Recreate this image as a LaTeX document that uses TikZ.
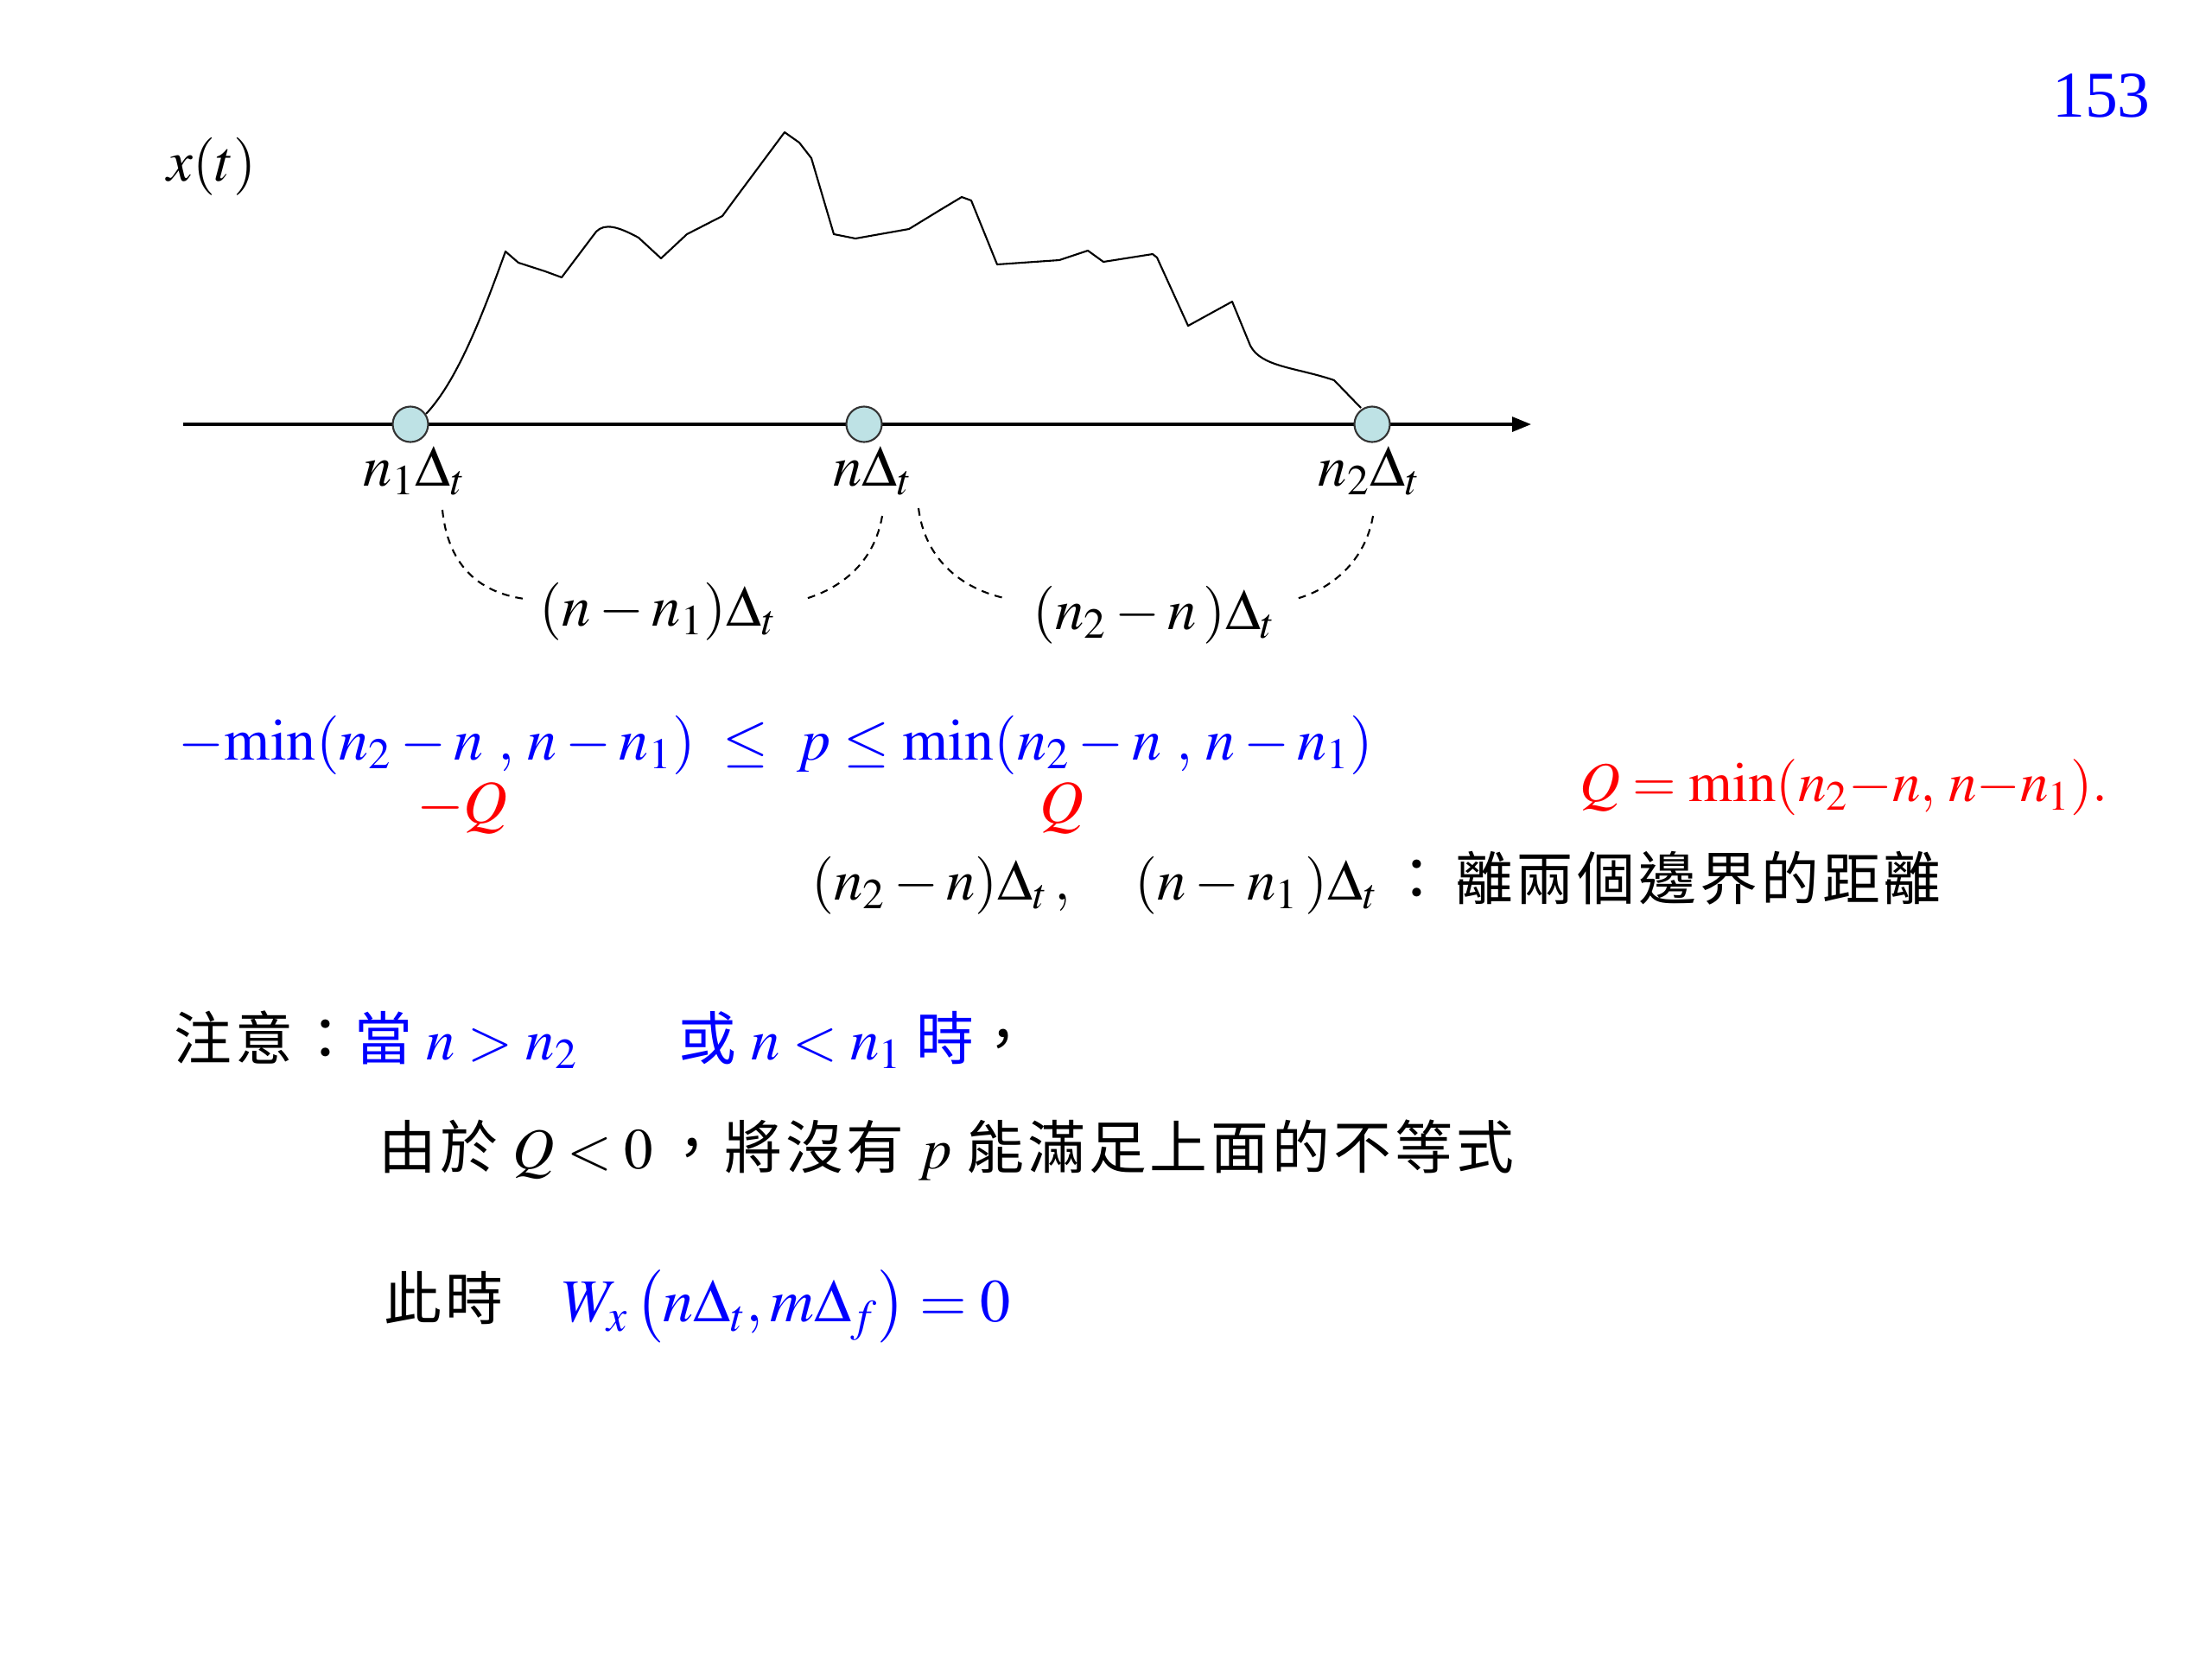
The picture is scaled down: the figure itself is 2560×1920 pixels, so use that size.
\documentclass[tikz,border=0pt]{standalone}
\usepackage{mathptmx}
\usepackage[no-math]{fontspec}
\setmainfont{Liberation Serif}
\newfontfamily\cjk[LetterSpace=6]{Noto Sans CJK TC}
\usetikzlibrary{arrows.meta}
\definecolor{dotfill}{RGB}{190,226,229}
\tikzset{
  txt/.style={inner sep=0pt, font=\fontsize{20}{24}\selectfont},
  lbl/.style={inner sep=0pt, font=\fontsize{19}{22}\selectfont},
  dot/.style={circle, draw=black!80, line width=0.6pt, fill=dotfill, minimum size=0.41cm, inner sep=0pt},
  brace/.style={line width=0.6pt, dash pattern=on 2.5pt off 2pt},
  cjkline/.style={inner sep=0pt, font=\fontsize{19}{22}\selectfont},
}
\begin{document}
\begin{tikzpicture}[x=0.01cm,y=-0.01cm]
\useasboundingbox[fill=white] (0,0) rectangle (2560,1920);

% page number
\node[inner sep=0pt, text=blue, font=\fontsize{21.5}{25}\selectfont] (pg) at (2432,111) {153};
% axis label
\node[lbl] (xt) at (245,193) {$x(t)$};

% axis
\coordinate (a0) at (212,491);
\coordinate (a1) at (1772,491);
\draw[line width=0.9pt, -{Triangle[length=0.22cm,width=0.17cm]}] (a0) -- (a1);

% signal
\draw[line width=0.6pt, line join=round]
 (493,479) .. controls (530,440) and (560,360) .. (585,291)
 -- (600,304) -- (631,314) -- (650,321)
 -- (690,268) .. controls (700,258) and (715,262) .. (739,275) -- (765,299)
 -- (795,271) -- (836,250) -- (847,235)
 -- (908,153) -- (925,165) -- (939,183) -- (965,271) -- (990,276)
 -- (1052,265) -- (1088,243) -- (1113,228) -- (1124,232)
 -- (1154,306) -- (1226,301) -- (1259,290) -- (1277,303)
 -- (1334,294) -- (1339,298) -- (1375,377) -- (1426,349)
 -- (1447,400) .. controls (1460,425) and (1500,425) .. (1544,440) -- (1575,472);

% points on axis
\node[dot] (c1) at (475,491) {};
\node[dot] (c2) at (1000,491) {};
\node[dot] (c3) at (1588,491) {};

\node[lbl] (l1) at (480,545) {$n_1\Delta_t$};
\node[lbl] (l2) at (1010,545) {$n\Delta_t$};
\node[lbl] (l3) at (1585,545) {$n_2\Delta_t$};

% distance labels
\node[lbl] (d1) at (762,708) {$(n-n_1)\Delta_t$};
\node[lbl] (d2) at (1336,712) {$(n_2-n\,)\Delta_t$};

\coordinate (s1) at (512,590);
\coordinate (e1) at (607,693);
\coordinate (s2) at (1021,597);
\coordinate (e2) at (932,693);
\coordinate (s3) at (1063,588);
\coordinate (e3) at (1162,692);
\coordinate (s4) at (1589,597);
\coordinate (e4) at (1500,693);
\draw[brace] (s1) .. controls (518,650) and (550,685) .. (e1);
\draw[brace] (s2) .. controls (1012,650) and (975,680) .. (e2);
\draw[brace] (s3) .. controls (1070,645) and (1110,680) .. (e3);
\draw[brace] (s4) .. controls (1580,650) and (1540,682) .. (e4);

% inequality
\node[inner sep=0pt, text=blue, font=\fontsize{19.4}{23}\selectfont] (ineq) at (898,862) {${-}\!\min(n_2-n\ ,\,n-n_1)\ \le\ p\le\min(n_2-n\ ,\,n-n_1)$};
\node[txt, text=red] (mq) at (535,935) {$-Q$};
\node[txt, text=red] (pq) at (1229,935) {$Q$};
\node[inner sep=0pt, text=red, font=\fontsize{18.5}{22}\selectfont] (qdef) at (2134,911) {$Q=\min(n_2{-}n,\,n{-}n_1).$};

% distances explanation
\node[cjkline] (dist) at (1593,1022) {$(n_2-n)\Delta_t\,,\quad (n-n_1\,)\Delta_t$\,{\cjk ：}\,{\cjk 離兩個邊界的距離}};

% notes
\node[cjkline, anchor=west] (note) at (201,1203) {{\cjk 注意：}\textcolor{blue}{{\cjk 當} $n>n_2$\quad\hspace{0.75em}{\cjk 或} $n<n_1$ {\cjk 時}}{\cjk ，}};
\node[cjkline, anchor=west] (cond) at (438,1331) {{\cjk 由於} $Q<0$\,{\cjk ，將沒有} $p$ {\cjk 能滿足上面的不等式}};
\node[cjkline, anchor=west] (now) at (444,1502) {{\cjk 此時}};
\node[txt, text=blue, anchor=west] (wx) at (650,1512) {$W_x\mkern2mu\bigl(n\Delta_t,m\Delta_f\bigr)\mkern4mu{=}\mkern4mu0$};
\end{tikzpicture}
\end{document}
